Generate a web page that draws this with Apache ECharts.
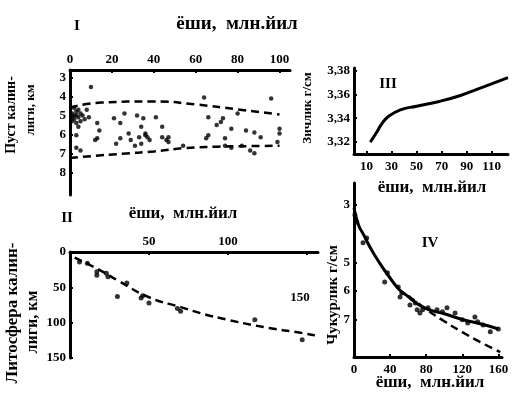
<!DOCTYPE html>
<html><head><meta charset="utf-8">
<script src="https://cdn.jsdelivr.net/npm/echarts@6/dist/echarts.min.js"></script>
<style>html,body{margin:0;background:#fff}#c{width:515px;height:398px}</style>
</head><body><div id="c"></div>
<script>
// ---- Panel I: crust thickness (km) vs age (Myr) ----
const crustPoints = [
  [1,4.9],[2,5.0],[3,4.8],[2,5.2],[4,5.1],[1,5.3],[3,5.4],[5,4.9],[4,4.7],[6,5.0],[2,4.6],[5,5.3],[1,5.1],[7,5.2],[3,5.0],
  [10,3.5],[8,4.7],[9,5.1],[4,5.6],[3,6.05],[13,5.4],[14,5.8],[13,6.2],[12,6.3],[3,6.7],[5,6.85],
  [21,5.15],[24,5.4],[26,4.9],[32,5.0],[35,5.15],[41,5.1],[34,5.6],[36,5.95],[44,5.6],[22,6.5],[24,6.2],
  [29,6.3],[31,6.6],[33,6.15],[36,6.05],[37,6.15],[38,6.3],[34,6.5],[44,6.15],[47,6.15],[46,6.3],[47,6.4],[28,5.95],
  [64,4.05],[96,4.1],[66,5.1],[73,5.15],[80,4.9],[70,5.5],[72,5.35],[77,5.7],[84,5.8],[88,5.9],[91,6.15],
  [100,5.95],[66,6.05],[65,6.2],[74,6.2],[54,6.6],[74,6.6],[77,6.7],[82,6.6],[88,7.0],[86,6.85],[100,5.7],[99,6.4]
];
const crustUpper = [[0,4.58],[15,4.32],[40,4.26],[60,4.42],[80,4.68],[100,4.95]];
const crustLower = [[0,7.25],[10,7.15],[25,7.02],[40,6.9],[55,6.72],[70,6.65],[85,6.62],[100,6.6]];
const ageTicksI = [0,20,40,60,80,100];
const crustTicks = [3,4,5,6,7,8];

// ---- Panel II: lithosphere thickness (km) vs age ----
const lithoPoints = [[6,14],[11,16],[17,28],[17,33],[23,30],[24,35],[30,63],[36,44],[45,65],[46,62],[50,72],[68,80],[70,84],[117,96],[147,124]];
const lithoCurve = [[3,8],[20,27],[30,40],[50,64],[70,78],[85,88],[100,96],[115,103],[130,109],[145,114],[155,118]];
const ageTicksII = [50,100,150];
const ageLabelsII = [50,100];
const lithoTicks = [0,50,100,150];

// ---- Panel III: density (g/cm3) vs age ----
const densityCurve = [[13,3.320],[18,3.328],[22,3.335],[27,3.341],[37,3.347],[50,3.350],[68,3.354],[85,3.359],[103,3.366],[123,3.374]];
const ageTicksIII = [10,30,50,70,90,110];
const densityTicks = [3.32,3.34,3.36,3.38];

// ---- Panel IV: depth vs age ----
const depthPoints = [[1,3.35],[3,3.59],[10,4.32],[14,4.15],[37,5.37],[34,5.69],[49,5.86],[53,6.07],[51,6.21],[62,6.49],[68,6.42],
  [70,6.66],[76,6.66],[73,6.77],[82,6.59],[92,6.66],[98,6.73],[103,6.59],[112,6.77],[120,7.01],[126,7.12],[134,6.91],[137,7.08],[143,7.19],[151,7.43],[160,7.33]];
const depthCurve = [[0,3.1],[5,3.7],[10,4.0],[20,4.6],[30,5.1],[40,5.55],[50,5.95],[60,6.2],[70,6.45],[80,6.62],[90,6.72],[100,6.8],[120,7.0],[140,7.15],[160,7.33]];
const depthSqrtLaw = [[60,6.17],[80,6.64],[100,7.06],[120,7.44],[140,7.79],[162,8.14]];
const ageTicksIV = [0,40,80,120,160];
const depthTicks = [3,5,6,7];

const F = '"Liberation Serif", "DejaVu Serif", serif';
const AX = {color:'#000', width:3};

function axis(o, ticks, labels, fmt, margin) {
  return Object.assign({
    type:'value',
    axisLine:{show:true, onZero:false, lineStyle:AX},
    axisTick:{show:true, inside:true, length:3, customValues:ticks, lineStyle:{color:'#000', width:2}},
    axisLabel:{customValues:labels || ticks, color:'#000', fontFamily:F, fontWeight:'bold', fontSize:13,
      margin:margin == null ? 4 : margin, formatter: fmt || (v => String(v))},
    splitLine:{show:false}
  }, o);
}

const dashed = {color:'#000', width:2.5, type:[8,5]};
const solid = {color:'#000', width:3};

function txt(x, y, s, size, rot) {
  return {type:'text', x:x, y:y, rotation: rot || 0,
    style:{text:s, fill:'#000', font:'bold ' + size + 'px ' + F, align:'center', verticalAlign:'middle'}};
}

const chart = echarts.init(document.getElementById('c'), null, {renderer:'canvas'});
chart.setOption({
  backgroundColor:'#fff',
  animation:false,
  grid:[
    {left:70, top:70, width:220, height:125},
    {left:70, top:252, width:248, height:106},
    {left:354, top:68, width:154, height:86},
    {left:354, top:183, width:148, height:174}
  ],
  xAxis:[
    axis({gridIndex:0, position:'top', min:0, max:105}, ageTicksI),
    axis({gridIndex:1, position:'top', min:0, max:157}, ageTicksII, ageLabelsII),
    axis({gridIndex:2, position:'bottom', min:0, max:123}, ageTicksIII, null, null, 6),
    axis({gridIndex:3, position:'bottom', min:0, max:164}, ageTicksIV, null, null, 6)
  ],
  yAxis:[
    axis({gridIndex:0, inverse:true, min:2.6, max:9.2}, crustTicks),
    axis({gridIndex:1, inverse:true, min:0, max:150}, lithoTicks),
    axis({gridIndex:2, min:3.31, max:3.382}, densityTicks, null, v => v.toFixed(2).replace('.', ',')),
    axis({gridIndex:3, inverse:true, min:2.23, max:8.31}, depthTicks)
  ],
  series:[
    {type:'scatter', xAxisIndex:0, yAxisIndex:0, data:crustPoints, symbolSize:4.5, itemStyle:{color:'#000'}},
    {type:'line', xAxisIndex:0, yAxisIndex:0, data:crustUpper, smooth:true, showSymbol:false, lineStyle:dashed},
    {type:'line', xAxisIndex:0, yAxisIndex:0, data:crustLower, smooth:true, showSymbol:false, lineStyle:dashed},

    {type:'scatter', xAxisIndex:1, yAxisIndex:1, data:lithoPoints, symbolSize:5, itemStyle:{color:'#000'}},
    {type:'line', xAxisIndex:1, yAxisIndex:1, data:lithoCurve, smooth:true, showSymbol:false, lineStyle:dashed},

    {type:'line', xAxisIndex:2, yAxisIndex:2, data:densityCurve, smooth:true, showSymbol:false, lineStyle:solid},

    {type:'line', xAxisIndex:3, yAxisIndex:3, data:depthSqrtLaw, smooth:true, showSymbol:false, lineStyle:dashed},
    {type:'line', xAxisIndex:3, yAxisIndex:3, data:depthCurve, smooth:true, showSymbol:false, lineStyle:solid},
    {type:'scatter', xAxisIndex:3, yAxisIndex:3, data:depthPoints, symbolSize:5, itemStyle:{color:'#000'}}
  ],
  graphic:[
    txt(77, 26, 'I', 15),
    txt(237, 24, 'ёши,  млн.йил', 19),
    txt(11, 115, 'Пуст калин-', 14, Math.PI/2),
    txt(31, 110, 'лиги, км', 13, Math.PI/2),

    txt(67, 218, 'II', 15),
    txt(183, 214, 'ёши,  млн.йил', 17),
    txt(13, 313, 'Литосфера калин-', 17, Math.PI/2),
    txt(33, 322, 'лиги, км', 16, Math.PI/2),
    txt(300, 298, '150', 13),

    txt(388, 84, 'III', 15),
    txt(308, 108, 'Зичлик г/см', 13, Math.PI/2),
    txt(432, 188, 'ёши,  млн.йил', 17),

    txt(430, 243, 'IV', 15),
    txt(333, 295, 'Чукурлик г/см', 15, Math.PI/2),
    txt(430, 383, 'ёши,  млн.йил', 17)
  ]
});
</script></body></html>
